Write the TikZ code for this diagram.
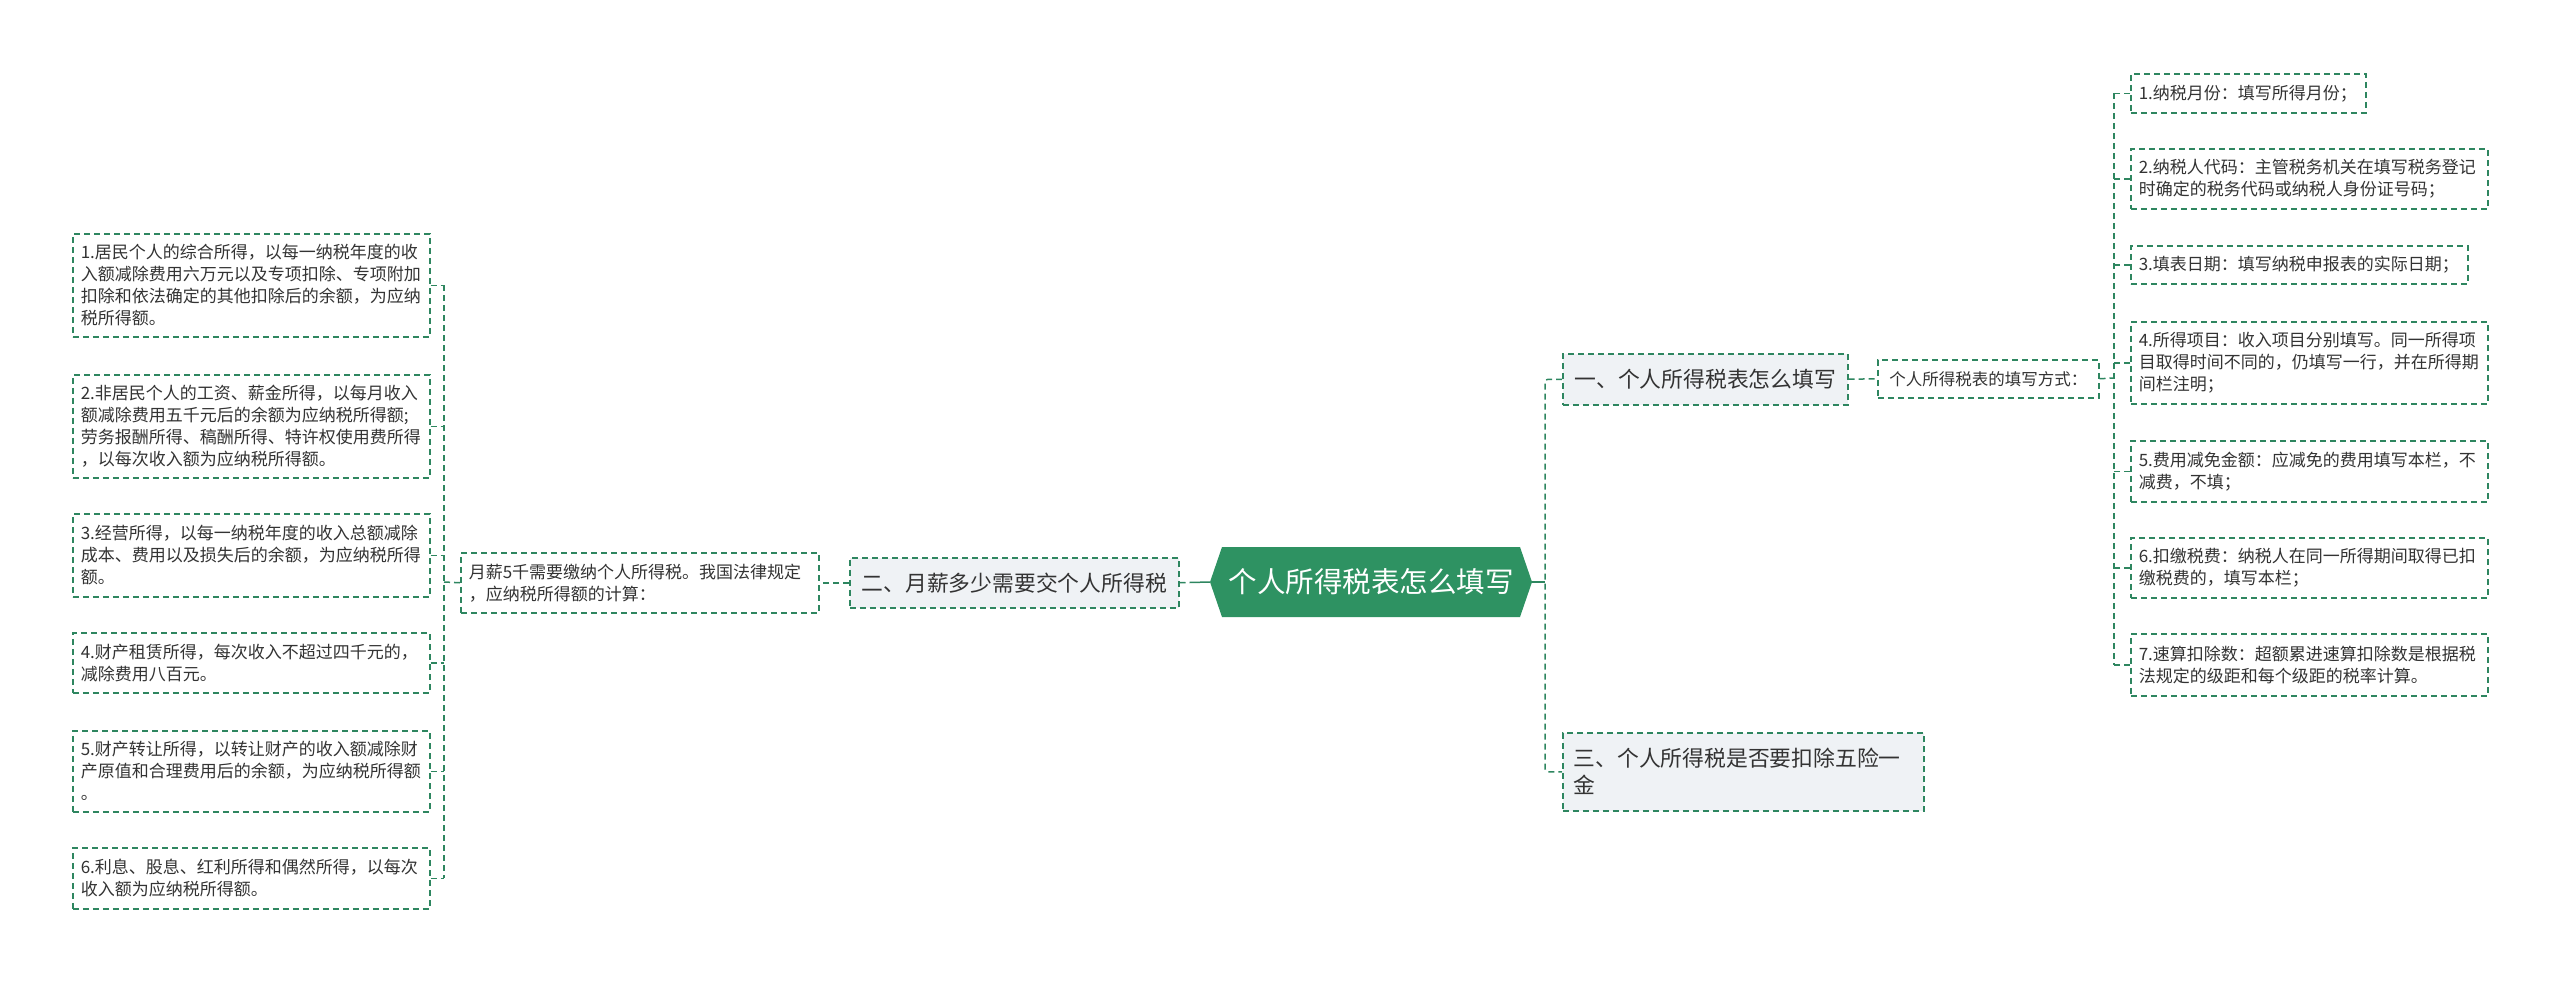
\documentclass[tikz,border=0pt]{standalone}
\usepackage{fontspec}
\setmainfont{Noto Sans CJK SC}
\definecolor{lineg}{RGB}{46,134,96}
\definecolor{rootc}{RGB}{46,146,98}
\definecolor{lightf}{RGB}{239,242,245}
\definecolor{txt}{RGB}{51,51,51}
\tikzset{
 base/.style={draw=lineg, line width=1.5pt, dash pattern=on 6pt off 4pt, inner ysep=0pt, text=txt, anchor=north west},
 leaf/.style={base, fill=white, inner xsep=8pt, align=left, font=\fontsize{17}{22}\selectfont},
 topic/.style={base, fill=lightf, inner xsep=0pt, align=center, font=\fontsize{21.8}{27}\selectfont},
 conn/.style={draw=lineg, line width=1.5pt, dash pattern=on 6pt off 4pt},
 rootconn/.style={draw=lineg, line width=1.5pt},
}
\begin{document}
\begin{tikzpicture}[x=1pt,y=-1pt]
\useasboundingbox (0,0) rectangle (2560,983);
% left leaves
\node[leaf, text width=341pt, minimum height=103pt] (l1) at (72,233) {1.居民个人的综合所得，以每一纳税年度的收\\入额减除费用六万元以及专项扣除、专项附加\\扣除和依法确定的其他扣除后的余额，为应纳\\税所得额。};
\node[leaf, text width=341pt, minimum height=103pt] (l2) at (72,374) {2.非居民个人的工资、薪金所得，以每月收入\\额减除费用五千元后的余额为应纳税所得额;\\劳务报酬所得、稿酬所得、特许权使用费所得\\，以每次收入额为应纳税所得额。};
\node[leaf, text width=341pt, minimum height=83pt] (l3) at (72,513) {3.经营所得，以每一纳税年度的收入总额减除\\成本、费用以及损失后的余额，为应纳税所得\\额。};
\node[leaf, text width=341pt, minimum height=60pt] (l4) at (72,632) {4.财产租赁所得，每次收入不超过四千元的，\\减除费用八百元。};
\node[leaf, text width=341pt, minimum height=81pt] (l5) at (72,730) {5.财产转让所得，以转让财产的收入额减除财\\产原值和合理费用后的余额，为应纳税所得额\\。};
\node[leaf, text width=341pt, minimum height=61pt] (l6) at (72,847) {6.利息、股息、红利所得和偶然所得，以每次\\收入额为应纳税所得额。};
% middle
\node[leaf, text width=342pt, minimum height=60pt] (mid) at (460,552) {月薪5千需要缴纳个人所得税。我国法律规定\\，应纳税所得额的计算：};
\node[topic, minimum width=329pt, minimum height=50pt] (two) at (849,557) {二、月薪多少需要交个人所得税};
% root
\fill[rootc] (1210,582) -- (1222,547) -- (1520,547) -- (1532,582) -- (1520,617) -- (1222,617) -- cycle;
\node[minimum width=322pt, minimum height=70pt, inner sep=0pt, text=white, font=\fontsize{28.5}{32}\selectfont] (root) at (1371,582) {个人所得税表怎么填写};
% right
\node[topic, minimum width=285pt, minimum height=51pt] (one) at (1562,353) {一、个人所得税表怎么填写};
\node[leaf, align=center, inner xsep=0pt, minimum width=221pt, minimum height=38pt, font=\fontsize{16.5}{20}\selectfont] (way) at (1877,359) {个人所得税表的填写方式：};
\node[topic, align=left, inner xsep=11pt, text width=339pt, minimum height=78pt] (three) at (1562,732) {三、个人所得税是否要扣除五险一\\金};
% items
\node[leaf, text width=219pt, minimum height=39pt] (i1) at (2130,73) {1.纳税月份：填写所得月份；};
\node[leaf, text width=341pt, minimum height=60pt] (i2) at (2130,148) {2.纳税人代码：主管税务机关在填写税务登记\\时确定的税务代码或纳税人身份证号码；};
\node[leaf, text width=321pt, minimum height=38pt] (i3) at (2130,245) {3.填表日期：填写纳税申报表的实际日期；};
\node[leaf, text width=341pt, minimum height=82pt] (i4) at (2130,321) {4.所得项目：收入项目分别填写。同一所得项\\目取得时间不同的，仍填写一行，并在所得期\\间栏注明；};
\node[leaf, text width=341pt, minimum height=61pt] (i5) at (2130,440) {5.费用减免金额：应减免的费用填写本栏，不\\减费，不填；};
\node[leaf, text width=341pt, minimum height=60pt] (i6) at (2130,537) {6.扣缴税费：纳税人在同一所得期间取得已扣\\缴税费的，填写本栏；};
\node[leaf, text width=341pt, minimum height=62pt] (i7) at (2130,633) {7.速算扣除数：超额累进速算扣除数是根据税\\法规定的级距和每个级距的税率计算。};
% connectors left
\coordinate (lb) at (444,582);
\draw[conn] (mid.west) -- (lb);
\draw[conn] (l1.east -| lb) -- (l6.east -| lb);
\foreach \n in {l1,l2,l3,l4,l5,l6} \draw[conn] (\n.east) -- (\n.east -| lb);
\draw[conn] (two.west) -- (mid.east);
\draw[draw=lineg, line width=1.5pt, dash pattern=on 6pt off 4pt on 40pt off 4pt] (two.east) -- (root.west);
% connectors right
\coordinate (rb) at (1545,582);
\draw[rootconn] (root.east) -- (rb);
\draw[conn, rounded corners=3pt] (one.west) -- (one.west -| rb) -- (three.west -| rb) -- (three.west);
\draw[conn] (one.east) -- (way.west);
\coordinate (rb2) at (2114,378);
\draw[conn] (way.east) -- (rb2);
\draw[conn] (i1.west -| rb2) -- (i7.west -| rb2);
\foreach \n in {i1,i2,i3,i4,i5,i6,i7} \draw[conn] (\n.west) -- (\n.west -| rb2);
\end{tikzpicture}
\end{document}
